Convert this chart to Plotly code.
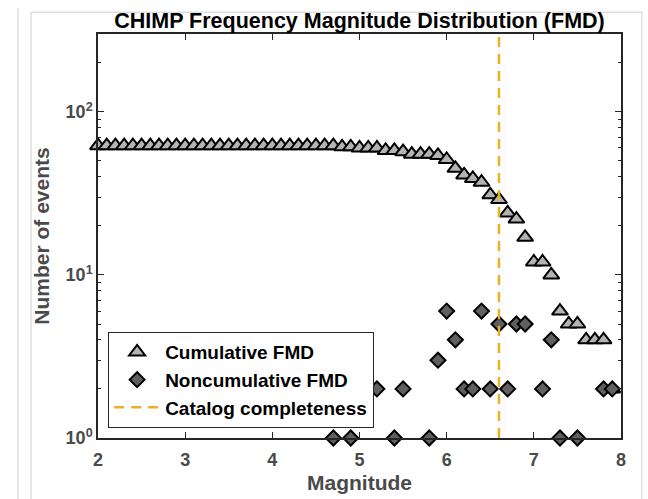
import plotly.graph_objects as go

# Magnitude bins (0.1 units)
magnitudes = [round(2.0 + 0.1 * i, 1) for i in range(60)]

# Number of events with magnitude >= M
cumulative_counts = [
    62, 62, 62, 62, 62, 62, 62, 62, 62, 62,   # 2.0 - 2.9
    62, 62, 62, 62, 62, 62, 62, 62, 62, 62,   # 3.0 - 3.9
    62, 62, 62, 62, 62, 62, 62, 62, 61, 61,   # 4.0 - 4.9
    60, 60, 60, 58, 58, 57, 55, 55, 55, 54,   # 5.0 - 5.9
    51, 45, 41, 39, 37, 31, 29, 24, 22, 17,   # 6.0 - 6.9
    12, 12, 10, 6, 5, 5, 4, 4, 4, 2,          # 7.0 - 7.9
]

# Number of events in each bin (empty bins left out on the log axis)
bin_magnitudes = [4.7, 4.9, 5.2, 5.4, 5.5, 5.8, 5.9, 6.0, 6.1, 6.2, 6.3, 6.4,
                  6.5, 6.6, 6.7, 6.8, 6.9, 7.1, 7.2, 7.3, 7.5, 7.8, 7.9]
bin_counts = [1, 1, 2, 1, 2, 1, 3, 6, 4, 2, 2, 6,
              2, 5, 2, 5, 5, 2, 4, 1, 1, 2, 2]

completeness_mag = 6.6
y_limits = [1, 300]

x_ticks = [2, 3, 4, 5, 6, 7, 8]
y_ticks = [1, 10, 100]
y_tick_text = ["10<sup>0</sup>", "10<sup>1</sup>", "10<sup>2</sup>"]
y_minor = [2, 3, 4, 5, 6, 7, 8, 9, 20, 30, 40, 50, 60, 70, 80, 90, 200, 300]

FONT = "Liberation Sans, Arial, Helvetica, sans-serif"
AXIS_GREY = "#4a4a4a"

fig = go.Figure()

fig.add_trace(go.Scatter(
    x=magnitudes, y=cumulative_counts, mode="markers",
    name="Cumulative FMD", cliponaxis=False,
    marker=dict(symbol="triangle-up", size=14, color="#b3b3b3",
                line=dict(color="black", width=2)),
))

fig.add_trace(go.Scatter(
    x=bin_magnitudes, y=bin_counts, mode="markers",
    name="Noncumulative FMD", cliponaxis=False,
    marker=dict(symbol="diamond", size=11.5, color="#5f5f5f",
                line=dict(color="black", width=2)),
))

fig.add_trace(go.Scatter(
    x=[completeness_mag, completeness_mag], y=y_limits, mode="lines",
    name="Catalog completeness",
    line=dict(color="#EDB120", width=2.5, dash="10px,7px"),
))

# light window frame lines around the figure
frame = dict(color="#cfcfcf", width=1)
for x0, y0, x1, y1 in [(-0.153, 1.064, -0.153, -0.2),
                       (-0.128, 1.054, -0.128, -0.2),
                       (-0.128, 1.054, 1.04, 1.054),
                       (1.04, 1.054, 1.04, -0.2)]:
    fig.add_shape(type="line", xref="paper", yref="paper",
                  x0=x0, y0=y0, x1=x1, y1=y1, line=frame, layer="below")

fig.update_layout(
    width=648, height=499,
    margin=dict(l=98, r=27, t=34, b=61),
    paper_bgcolor="white", plot_bgcolor="white",
    font=dict(family=FONT, size=18, color=AXIS_GREY, weight="bold"),
    title=dict(text="CHIMP Frequency Magnitude Distribution (FMD)",
               x=0.5, xref="paper", xanchor="center",
               y=1, yref="paper", yanchor="bottom", pad=dict(b=6),
               font=dict(family=FONT, size=21.5, color="black", weight="bold")),
    showlegend=True,
    legend=dict(x=0.019, y=0.025, xanchor="left", yanchor="bottom",
                bgcolor="white", bordercolor="#262626", borderwidth=1.2,
                font=dict(family=FONT, size=19, color="black", weight="bold"),
                itemwidth=46, tracegroupgap=0),
)

fig.update_xaxes(
    range=[2, 8], tickvals=x_ticks, ticktext=[str(v) for v in x_ticks],
    ticks="inside", ticklen=6, tickwidth=1.2, tickcolor="#262626",
    ticklabelstandoff=5, automargin=False,
    showline=True, linecolor="#262626", linewidth=1.5, mirror="ticks",
    showgrid=False, zeroline=False,
    tickfont=dict(family=FONT, size=18, color=AXIS_GREY, weight="bold"),
    title=dict(text="Magnitude", standoff=6,
               font=dict(family=FONT, size=21, color=AXIS_GREY, weight="bold")),
)

fig.update_yaxes(
    type="log", range=[0, 2.4771],
    tickvals=y_ticks, ticktext=y_tick_text,
    ticks="inside", ticklen=6, tickwidth=1.2, tickcolor="#262626",
    automargin=False,
    minor=dict(tickvals=y_minor, ticks="inside", ticklen=3,
               tickcolor="#262626", showgrid=False),
    showline=True, linecolor="#262626", linewidth=1.5, mirror="ticks",
    showgrid=False, zeroline=False,
    tickfont=dict(family=FONT, size=18, color=AXIS_GREY, weight="bold"),
    title=dict(text="Number of events", standoff=10,
               font=dict(family=FONT, size=21, color=AXIS_GREY, weight="bold")),
)

fig.write_html("out.html")
